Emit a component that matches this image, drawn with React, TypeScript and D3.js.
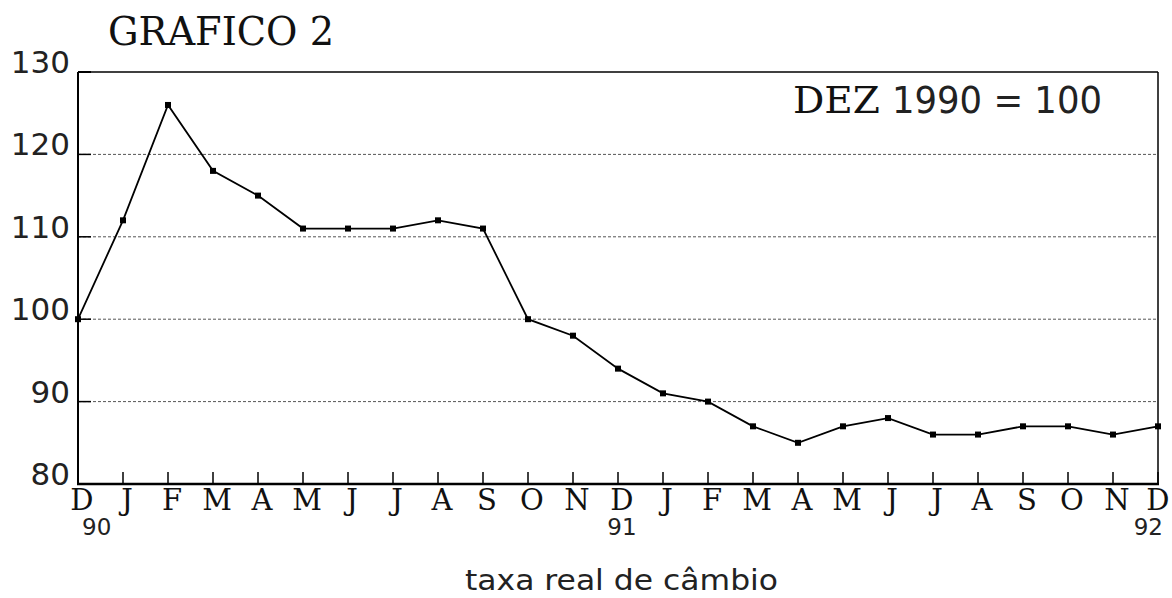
import React from "react";
import * as d3 from "d3";

const months = ["D","J","F","M","A","M","J","J","A","S","O","N","D","J","F","M","A","M","J","J","A","S","O","N","D"];
const values = [100,112,126,118,115,111,111,111,112,111,100,98,94,91,90,87,85,87,88,86,86,87,87,86,87];
const yTicks = [80, 90, 100, 110, 120, 130];
const yearLabels = [{ i: 0, label: "90" }, { i: 12, label: "91" }, { i: 24, label: "92" }];

export default function App() {
  const W = 1172, H = 598;
  const left = 78, right = 1158, top = 72, bottom = 484;
  const x = d3.scaleLinear().domain([0, months.length - 1]).range([left, right]);
  const y = d3.scaleLinear().domain([80, 130]).range([bottom, top]);
  const line = d3.line<number>().x((_, i) => x(i)).y(v => y(v));
  const slab = "'DejaVu Serif', serif";
  const sans = "'DejaVu Sans', sans-serif";
  return (
    <svg width={W} height={H} style={{ position: "absolute", left: 0, top: 0, background: "#fff" }}>
      <text x={108} y={45} fontFamily={slab} fontSize={40} textLength={226} lengthAdjust="spacingAndGlyphs" fill="#111">GRAFICO 2</text>
      {/* gridlines */}
      {yTicks.filter(t => t > 80 && t < 130).map(t => (
        <g key={t}>
          <line x1={left} x2={right} y1={y(t)} y2={y(t)} stroke="#555" strokeWidth={1} strokeDasharray="3,2" />
          <line x1={left} x2={left + 13} y1={y(t)} y2={y(t)} stroke="#000" strokeWidth={1.5} />
        </g>
      ))}
      {/* frame */}
      <line x1={left} x2={right} y1={top} y2={top} stroke="#000" strokeWidth={1.5} />
      <line x1={left} x2={left + 13} y1={top} y2={top} stroke="#000" strokeWidth={2} />
      <line x1={right} x2={right} y1={top} y2={bottom} stroke="#000" strokeWidth={1.5} />
      <line x1={left} x2={left} y1={top} y2={bottom} stroke="#000" strokeWidth={2} />
      <line x1={left - 1} x2={right + 1} y1={bottom} y2={bottom} stroke="#000" strokeWidth={2.5} />
      {/* y labels */}
      {yTicks.map(t => (
        <text key={t} x={70} y={y(t) + 1} textAnchor="end" fontFamily={sans} fontSize={31} fill="#222">{t}</text>
      ))}
      {/* x ticks and labels */}
      {months.map((m, i) => (
        <g key={i}>
          {i > 0 && <line x1={x(i)} x2={x(i)} y1={bottom} y2={bottom - 12} stroke="#000" strokeWidth={1.5} />}
          <text x={x(i) + (i === months.length - 1 ? 0 : 4)} y={510} textAnchor="middle" fontFamily={slab} fontSize={29} fill="#111">{m}</text>
        </g>
      ))}
      {yearLabels.map(d => (
        <text key={d.label} x={d.i === 0 ? x(d.i) + 4 : d.i === 24 ? x(d.i) + 5 : x(d.i) + 4}
          y={535} textAnchor={d.i === 0 ? "start" : d.i === 24 ? "end" : "middle"}
          fontFamily={sans} fontSize={23} fill="#222">{d.label}</text>
      ))}
      {/* series */}
      <path d={line(values) || ""} fill="none" stroke="#000" strokeWidth={1.8} />
      {values.map((v, i) => (
        <rect key={i} x={x(i) - 3} y={y(v) - 3} width={6} height={6} fill="#000" />
      ))}
      <text x={793} y={113} fontFamily={slab} fontSize={38} textLength={87} lengthAdjust="spacingAndGlyphs" fill="#111">DEZ</text>
      <text x={892} y={113} fontFamily={sans} fontSize={38} fill="#222" textLength={210} lengthAdjust="spacingAndGlyphs">1990 = 100</text>
      <text x={465} y={590} fontFamily={sans} fontSize={29} fill="#222" textLength={313} lengthAdjust="spacingAndGlyphs">taxa real de câmbio</text>
    </svg>
  );
}
